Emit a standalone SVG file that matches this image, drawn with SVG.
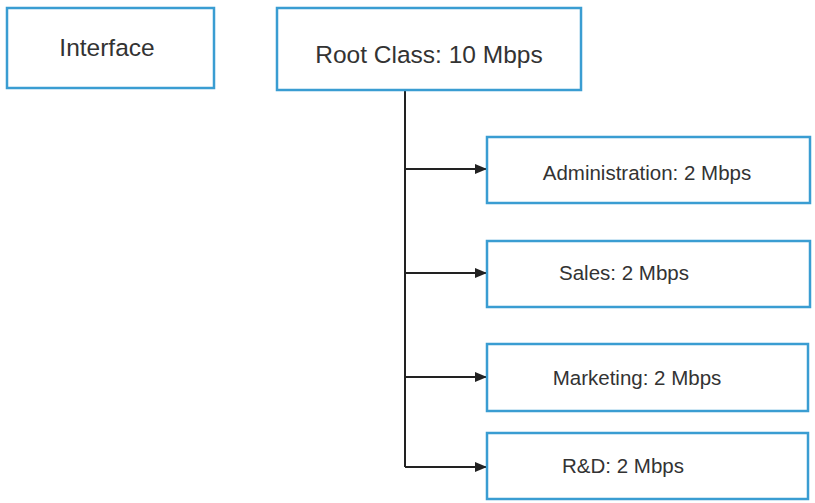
<svg xmlns="http://www.w3.org/2000/svg" width="815" height="503" viewBox="0 0 815 503">
<style>
.box{fill:#fff;stroke:#3a9dd2;stroke-width:2.5}
.t{font-family:"Liberation Sans",Arial,sans-serif;fill:#333;text-anchor:middle}
.big{font-size:24.5px}
.sm{font-size:20.5px}
.ln{fill:none;stroke:#222;stroke-width:2}
</style>
<defs>
<marker id="ah" viewBox="0 0 12 10" refX="12" refY="5" markerWidth="12" markerHeight="10" markerUnits="userSpaceOnUse" orient="auto">
<path d="M0,0 L12,5 L0,10 Z" fill="#222"/>
</marker>
</defs>
<rect width="815" height="503" fill="#fff"/>
<g id="connectors">
<path class="ln" d="M405,90 V467"/>
<path class="ln" d="M405,169 H487" marker-end="url(#ah)"/>
<path class="ln" d="M405,273 H487" marker-end="url(#ah)"/>
<path class="ln" d="M405,377 H487" marker-end="url(#ah)"/>
<path class="ln" d="M405,467 H487" marker-end="url(#ah)"/>
</g>
<g id="interface">
<rect class="box" x="7" y="8" width="207" height="80"/>
<text class="t big" x="107" y="56">Interface</text>
</g>
<g id="root">
<rect class="box" x="277" y="8" width="304" height="82"/>
<text class="t big" x="429" y="63">Root Class: 10 Mbps</text>
</g>
<g id="admin">
<rect class="box" x="487" y="137" width="323" height="66"/>
<text class="t sm" x="647" y="180">Administration: 2 Mbps</text>
</g>
<g id="sales">
<rect class="box" x="487" y="241" width="323" height="66"/>
<text class="t sm" x="624" y="280">Sales: 2 Mbps</text>
</g>
<g id="marketing">
<rect class="box" x="487" y="344" width="321" height="67"/>
<text class="t sm" x="637" y="385">Marketing: 2 Mbps</text>
</g>
<g id="rnd">
<rect class="box" x="487" y="433" width="321" height="66"/>
<text class="t sm" x="623" y="473">R&amp;D: 2 Mbps</text>
</g>
</svg>
